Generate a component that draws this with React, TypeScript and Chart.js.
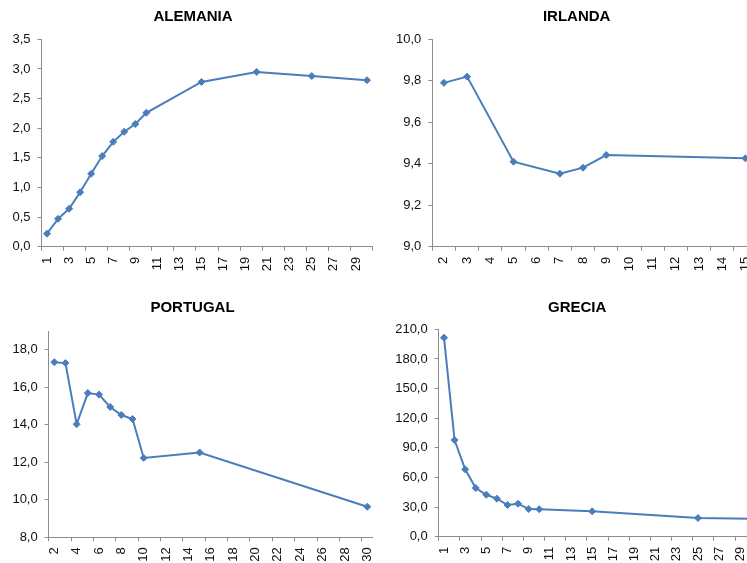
import React, { useEffect, useRef } from 'react';
import { Chart, registerables } from 'chart.js';

Chart.register(...registerables);

const FONT = "'Liberation Sans', Arial, Helvetica, sans-serif";
const LINE_COLOR = '#4A7EBB';
const AXIS_COLOR = '#8C8C8C';
const TEXT_COLOR = '#111111';

// ALEMANIA
const alemaniaLabels = ['1','2','3','4','5','6','7','8','9','10','11','12','13','14','15','16','17','18','19','20','21','22','23','24','25','26','27','28','29','30'];
const alemaniaValues = [0.22, 0.47, 0.64, 0.92, 1.23, 1.53, 1.77, 1.94, 2.07, 2.26, null, null, null, null, 2.78, null, null, null, null, 2.95, null, null, null, null, 2.88, null, null, null, null, 2.81];

// IRLANDA
const irlandaLabels = ['2','3','4','5','6','7','8','9','10','11','12','13','14','15'];
const irlandaValues = [9.79, 9.82, null, 9.41, null, 9.352, 9.381, 9.442, null, null, null, null, null, 9.426];

// PORTUGAL
const portugalLabels = ['2','3','4','5','6','7','8','9','10','11','12','13','14','15','16','17','18','19','20','21','22','23','24','25','26','27','28','29','30'];
const portugalValues = [17.34, 17.29, 14.03, 15.69, 15.61, 14.95, 14.52, 14.31, 12.23, null, null, null, null, 12.52, null, null, null, null, null, null, null, null, null, null, null, null, null, null, 9.63];

// GRECIA
const greciaLabels = ['1','2','3','4','5','6','7','8','9','10','11','12','13','14','15','16','17','18','19','20','21','22','23','24','25','26','27','28','29','30'];
const greciaValues = [201.5, 97.9, 68.2, 49.3, 42.5, 38.5, 32.1, 33.4, 28.0, 27.8, null, null, null, null, 25.7, null, null, null, null, null, null, null, null, null, 18.9, null, null, null, null, 18.3];

type Panel = {
  title: string;
  labels: string[];
  values: (number | null)[];
  yMin: number;
  yMax: number;
  yStep: number;
  labelEvery: number;
  left: number;        // canvas left (page px)
  top: number;         // canvas top (page px)
  width: number;       // canvas width
  height: number;      // canvas height
  plotLeft: number;    // page px
  plotRight: number;   // page px
  plotTop: number;     // canvas px
  plotBottom: number;  // canvas px
  titleX: number;      // page px
  titleY: number;      // canvas px
};

const panels: Panel[] = [
  { title: 'ALEMANIA', labels: alemaniaLabels, values: alemaniaValues, yMin: 0, yMax: 3.5, yStep: 0.5, labelEvery: 2,
    left: 0, top: 0, width: 386, height: 285, plotLeft: 41.5, plotRight: 372.5, plotTop: 39.3, plotBottom: 246.7,
    titleX: 193, titleY: 16.7 },
  { title: 'IRLANDA', labels: irlandaLabels, values: irlandaValues, yMin: 9, yMax: 10, yStep: 0.2, labelEvery: 1,
    left: 380, top: 0, width: 394, height: 285, plotLeft: 432.3, plotRight: 757, plotTop: 39.3, plotBottom: 246.7,
    titleX: 576.7, titleY: 16.7 },
  { title: 'PORTUGAL', labels: portugalLabels, values: portugalValues, yMin: 8, yMax: 19, yStep: 2, labelEvery: 2,
    left: 0, top: 290, width: 385, height: 273, plotLeft: 48.7, plotRight: 372.9, plotTop: 41, plotBottom: 247.3,
    titleX: 192.5, titleY: 18 },
  { title: 'GRECIA', labels: greciaLabels, values: greciaValues, yMin: 0, yMax: 210, yStep: 30, labelEvery: 2,
    left: 380, top: 290, width: 394, height: 273, plotLeft: 438.7, plotRight: 756.2, plotTop: 39.3, plotBottom: 246.7,
    titleX: 577.2, titleY: 18 },
];

function LineChart({ p }: { p: Panel }) {
  const ref = useRef<HTMLCanvasElement | null>(null);
  useEffect(() => {
    if (!ref.current) return;
    const n = p.labels.length;
    const yWidth = p.plotLeft - p.left;
    const padRight = p.left + p.width - p.plotRight;
    const xHeight = p.height - p.plotBottom;
    const titlePlugin = {
      id: 'panelTitle',
      afterDraw(chart: any) {
        const ctx = chart.ctx;
        ctx.save();
        ctx.font = `bold 15px ${FONT}`;
        ctx.fillStyle = '#000';
        ctx.textAlign = 'center';
        ctx.textBaseline = 'middle';
        ctx.fillText(p.title, p.titleX - p.left, p.titleY);
        ctx.restore();
      },
    };
    const chart = new Chart(ref.current, {
      type: 'line',
      data: {
        labels: p.labels,
        datasets: [{
          data: p.values,
          borderColor: LINE_COLOR,
          backgroundColor: LINE_COLOR,
          borderWidth: 2,
          pointStyle: 'rectRot',
          pointRadius: 3.5,
          pointBorderWidth: 1,
          pointBackgroundColor: LINE_COLOR,
          pointBorderColor: LINE_COLOR,
          spanGaps: true,
          tension: 0,
        }],
      },
      plugins: [titlePlugin],
      options: {
        animation: false,
        responsive: false,
        devicePixelRatio: 1,
        layout: { padding: { left: 0, right: padRight, top: p.plotTop, bottom: 0 } },
        plugins: {
          legend: { display: false },
          tooltip: { enabled: false },
          title: { display: false },
        },
        scales: {
          x: {
            type: 'category',
            offset: true,
            grid: {
              offset: true,
              drawOnChartArea: false,
              drawTicks: true,
              tickLength: 4,
              lineWidth: 1,
              color: (ctx: any) => {
                const idx = ctx.index === undefined ? n : ctx.index;
                return idx % p.labelEvery === 0 ? AXIS_COLOR : 'rgba(0,0,0,0)';
              },
            },
            border: { display: true, color: AXIS_COLOR, width: 1 },
            ticks: {
              autoSkip: false,
              maxRotation: 90,
              minRotation: 90,
              padding: 6,
              color: TEXT_COLOR,
              font: { family: FONT, size: 13 },
              callback: function (this: any, val: any, idx: number) {
                return idx % p.labelEvery === 0 ? this.getLabelForValue(val) : '';
              },
            },
            afterFit: (s: any) => {
              s.height = xHeight;
              s.paddingLeft = 0;
              s.paddingRight = 0;
            },
          },
          y: {
            min: p.yMin,
            max: p.yMax,
            grid: {
              drawOnChartArea: false,
              drawTicks: true,
              tickLength: 4,
              color: AXIS_COLOR,
            },
            border: { display: true, color: AXIS_COLOR, width: 1 },
            ticks: {
              stepSize: p.yStep,
              includeBounds: false,
              padding: 7,
              color: TEXT_COLOR,
              font: { family: FONT, size: 13 },
              callback: (v: any) => Number(v).toFixed(1).replace('.', ','),
            },
            afterFit: (s: any) => {
              s.width = yWidth;
              s.paddingTop = 0;
              s.paddingBottom = 0;
            },
          },
        },
      },
    } as any);
    return () => chart.destroy();
  }, [p]);
  return (
    <canvas
      ref={ref}
      width={p.width}
      height={p.height}
      style={{ position: 'absolute', left: p.left, top: p.top, width: p.width, height: p.height }}
    />
  );
}

export default function App() {
  return (
    <div style={{ position: 'fixed', left: 0, top: 0, width: 747, height: 563, overflow: 'hidden', background: '#ffffff' }}>
      {panels.map((p) => (
        <LineChart key={p.title} p={p} />
      ))}
    </div>
  );
}
